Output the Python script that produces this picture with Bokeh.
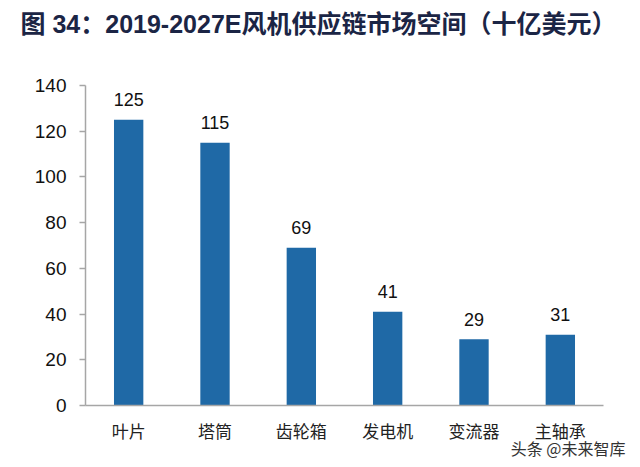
from bokeh.plotting import figure
from bokeh.models import ColumnDataSource, Range1d, FactorRange, Title, Div
from bokeh.layouts import column
from bokeh.core.properties import value
from bokeh.embed import file_html
from bokeh.resources import INLINE

categories = ["叶片", "塔筒", "齿轮箱", "发电机", "变流器", "主轴承"]
values = [125, 115, 69, 41, 29, 31]
y_ticks = [0, 20, 40, 60, 80, 100, 120, 140]
title_text = "图  34：2019-2027E风机供应链市场空间（十亿美元）"
watermark = "头条 @未来智库"

BAR = "#1f69a6"
NAVY = "#1b2545"
CJK = "Noto Sans CJK SC"
LAT = "Liberation Sans"
MIX = "'Liberation Sans', 'Noto Sans CJK SC'"

# ---- title strip ----
t = figure(width=632, height=45, output_backend="svg", toolbar_location=None,
           x_axis_location=None, y_axis_location=None,
           min_border_left=85, min_border_right=29, min_border_top=37, min_border_bottom=0)
t.grid.visible = False
t.outline_line_color = None
t.add_layout(Title(text=title_text, align="left", offset=-65, standoff=0,
                   text_font=MIX, text_font_size="25px", text_font_style="bold",
                   text_color=NAVY), "above")

# ---- underline ----
u = Div(text='<div style="width:628px;height:2px;margin:0 0 0 4px;padding:0;background:#1e1e1e;"></div>',
        width=632, height=2, margin=(0, 0, 0, 0))

# ---- main chart ----
src = ColumnDataSource(dict(cat=categories, val=values, lab=[str(v) for v in values]))
p = figure(x_range=FactorRange(*categories, range_padding=0), y_range=Range1d(0, 140),
           width=632, height=420, output_backend="svg", toolbar_location=None,
           min_border_left=85, min_border_right=29, min_border_top=38, min_border_bottom=62)
p.outline_line_color = None
p.grid.grid_line_color = None

p.vbar(x="cat", top="val", width=0.34, source=src, color=BAR, line_color=None)
p.text(x="cat", y="val", text="lab", source=src, text_align="center", text_baseline="alphabetic",
       y_offset=-20, text_font=value(LAT), text_font_size="18px", text_color="#111111")

ya = p.yaxis[0]
ya.ticker = y_ticks
ya.axis_line_color = "#a6a6a6"
ya.axis_line_width = 1.5
ya.major_tick_line_color = "#a6a6a6"
ya.major_tick_line_width = 1.5
ya.major_tick_out = 6
ya.major_tick_in = 0
ya.minor_tick_line_color = None
ya.major_label_text_font = LAT
ya.major_label_text_font_size = "19px"
ya.major_label_text_color = "#111111"
ya.major_label_standoff = 13

xa = p.xaxis[0]
xa.axis_line_color = "#a6a6a6"
xa.axis_line_width = 1.5
xa.major_tick_line_color = None
xa.minor_tick_line_color = None
xa.major_label_text_font = CJK
xa.major_label_text_font_size = "17px"
xa.major_label_text_color = "#222222"
xa.major_label_standoff = 6

p.add_layout(Title(text=watermark, align="right", offset=-22, standoff=-23,
                   text_font=CJK, text_font_size="16px", text_font_style="normal",
                   text_color="#333333"), "below")

layout = column(t, u, p, spacing=0)
open("out.html", "w").write(file_html(layout, INLINE))
